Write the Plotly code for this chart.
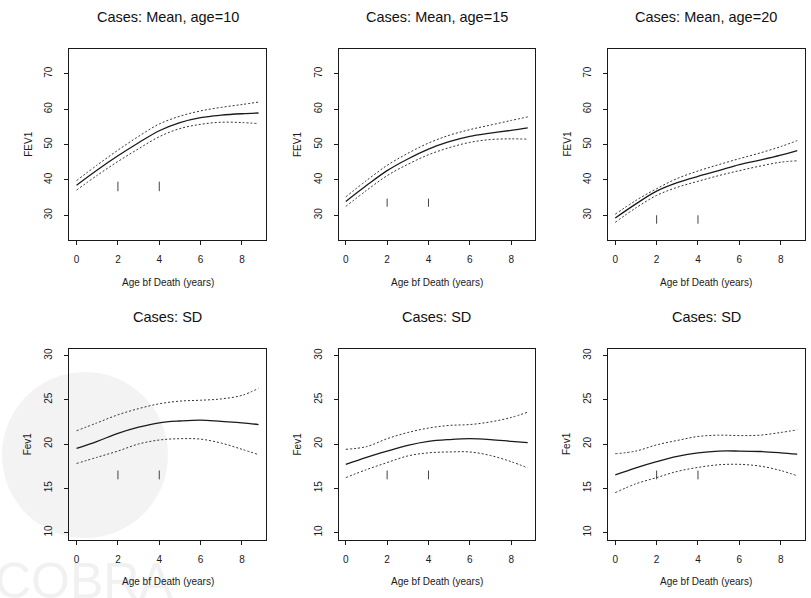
import plotly.graph_objects as go

# ---------------- data ----------------
x_age = [0, 1, 2, 3, 4, 5, 6, 7, 8, 8.8]
knots = [2, 4]

titles = ["Cases: Mean, age=10", "Cases: Mean, age=15", "Cases: Mean, age=20",
          "Cases: SD", "Cases: SD", "Cases: SD"]
y_titles = ["FEV1", "FEV1", "FEV1", "Fev1", "Fev1", "Fev1"]
x_title = "Age bf Death (years)"

mean10_fit = [38.5, 42.8, 46.8, 50.5, 53.9, 56.2, 57.6, 58.3, 58.7, 58.9]
mean10_hi = [39.8, 44.2, 48.4, 52.3, 55.8, 58.0, 59.5, 60.5, 61.3, 62.0]
mean10_lo = [37.1, 41.3, 45.2, 48.8, 52.2, 54.5, 55.7, 56.3, 56.2, 55.9]

mean15_fit = [33.9, 38.4, 42.6, 45.9, 48.7, 50.8, 52.3, 53.2, 54.0, 54.7]
mean15_hi = [35.2, 39.8, 44.1, 47.5, 50.4, 52.6, 54.2, 55.5, 56.8, 57.8]
mean15_lo = [32.5, 37.0, 41.2, 44.4, 47.1, 49.1, 50.6, 51.4, 51.6, 51.5]

mean20_fit = [29.2, 33.2, 36.8, 39.2, 41.0, 42.6, 44.3, 45.6, 47.0, 48.3]
mean20_hi = [30.3, 34.2, 37.5, 40.4, 42.5, 44.3, 46.0, 47.6, 49.4, 51.1]
mean20_lo = [28.0, 32.1, 35.6, 37.9, 39.6, 41.2, 42.6, 43.9, 45.0, 45.4]

sd10_fit = [19.5, 20.3, 21.2, 21.9, 22.4, 22.6, 22.7, 22.55, 22.4, 22.2]
sd10_hi = [21.5, 22.4, 23.3, 24.0, 24.55, 24.85, 24.95, 25.1, 25.5, 26.3]
sd10_lo = [17.8, 18.5, 19.2, 20.0, 20.45, 20.6, 20.55, 20.1, 19.4, 18.8]

sd15_fit = [17.7, 18.5, 19.2, 19.85, 20.3, 20.5, 20.6, 20.5, 20.3, 20.15]
sd15_hi = [19.4, 19.7, 20.6, 21.3, 21.8, 22.1, 22.2, 22.5, 23.0, 23.6]
sd15_lo = [16.2, 17.1, 17.9, 18.65, 19.0, 19.1, 19.1, 18.7, 18.0, 17.3]

sd20_fit = [16.5, 17.3, 18.0, 18.6, 19.0, 19.2, 19.2, 19.15, 19.0, 18.85]
sd20_hi = [18.9, 19.2, 19.9, 20.4, 20.85, 21.0, 20.95, 21.0, 21.3, 21.6]
sd20_lo = [14.5, 15.5, 16.2, 16.9, 17.35, 17.65, 17.7, 17.5, 17.0, 16.4]

fits = [mean10_fit, mean15_fit, mean20_fit, sd10_fit, sd15_fit, sd20_fit]
his = [mean10_hi, mean15_hi, mean20_hi, sd10_hi, sd15_hi, sd20_hi]
los = [mean10_lo, mean15_lo, mean20_lo, sd10_lo, sd15_lo, sd20_lo]

rug_bottom = [36.8, 32.4, 27.6, 16.0, 16.0, 16.0]
rug_top = [39.5, 34.7, 30.0, 17.0, 17.0, 17.0]

x_ticks = [0, 2, 4, 6, 8]
y_ticks_top = [30, 40, 50, 60, 70]
y_ticks_bot = [10, 15, 20, 25, 30]
x_lim = [0, 8.8]
y_lim_top = [25, 75]
y_lim_bot = [10, 30]

watermark_text = "COBRA"

# ---------------- layout geometry (pixels) ----------------
W, H = 811, 598
col_left = [69.3, 338.5, 608.0]
box_w = 196.5
row_top = [49.0, 348.5]
box_h = 191.0
FONT = "Liberation Sans, Arial, Helvetica, sans-serif"
INK = "#1a1a1a"


def ext(lim):
    d = (lim[1] - lim[0]) * 0.04
    return [lim[0] - d, lim[1] + d]


fig = go.Figure()
annotations = []

for i in range(6):
    r, c = divmod(i, 3)
    n = i + 1
    xa = "x" if n == 1 else f"x{n}"
    ya = "y" if n == 1 else f"y{n}"
    # confidence band (dotted) and fitted curve (solid)
    fig.add_trace(go.Scatter(x=x_age, y=his[i], mode="lines", xaxis=xa, yaxis=ya,
                             line=dict(color="#333", width=1, dash="2px,2px", shape="spline"),
                             showlegend=False, hoverinfo="skip"))
    fig.add_trace(go.Scatter(x=x_age, y=los[i], mode="lines", xaxis=xa, yaxis=ya,
                             line=dict(color="#333", width=1, dash="2px,2px", shape="spline"),
                             showlegend=False, hoverinfo="skip"))
    fig.add_trace(go.Scatter(x=x_age, y=fits[i], mode="lines", xaxis=xa, yaxis=ya,
                             line=dict(color=INK, width=1.3, shape="spline"),
                             showlegend=False, hoverinfo="skip"))
    # rug marks at knots
    rx, ry = [], []
    for k in knots:
        rx += [k, k, None]
        ry += [rug_bottom[i], rug_top[i], None]
    fig.add_trace(go.Scatter(x=rx, y=ry, mode="lines", xaxis=xa, yaxis=ya,
                             line=dict(color="#444", width=1),
                             showlegend=False, hoverinfo="skip"))

    L = col_left[c]
    T = row_top[r]
    xdom = [L / W, (L + box_w) / W]
    ydom = [1 - (T + box_h) / H, 1 - T / H]
    axis_common = dict(showline=True, mirror=True, linecolor=INK, linewidth=1,
                       ticks="outside", ticklen=4, tickcolor=INK, tickwidth=1,
                       showgrid=False, zeroline=False,
                       tickfont=dict(family=FONT, size=10, color=INK))
    fig.update_layout(**{
        ("xaxis" if n == 1 else f"xaxis{n}"): dict(
            domain=xdom, anchor=ya, range=ext(x_lim), tickvals=x_ticks,
            ticklabelstandoff=6, **axis_common),
        ("yaxis" if n == 1 else f"yaxis{n}"): dict(
            domain=ydom, anchor=xa,
            range=ext(y_lim_top if r == 0 else y_lim_bot),
            tickvals=y_ticks_top if r == 0 else y_ticks_bot,
            tickangle=-90, ticklabelstandoff=8, **axis_common),
    })
    cx = (L + box_w / 2) / W
    annotations.append(dict(text=titles[i], x=cx, y=1 - (T - 32) / H, xref="paper", yref="paper",
                            xanchor="center", yanchor="middle", showarrow=False,
                            font=dict(family=FONT, size=14.5, color="#111")))
    annotations.append(dict(text=x_title, x=cx, y=1 - (T + box_h + 42) / H, xref="paper",
                            yref="paper", xanchor="center", yanchor="middle", showarrow=False,
                            font=dict(family=FONT, size=10, color=INK)))
    annotations.append(dict(text=y_titles[i], x=(L - 41) / W, y=1 - (T + box_h / 2) / H,
                            xref="paper", yref="paper", xanchor="center", yanchor="middle",
                            textangle=-90, showarrow=False,
                            font=dict(family=FONT, size=10, color=INK)))

# very faint watermark behind the lower-left panel
annotations.insert(0, dict(text=watermark_text, x=84 / W, y=1 - 551 / H, xref="paper",
                           yref="paper", xanchor="center", yanchor="top", showarrow=False,
                           font=dict(family=FONT, size=50, color="#f1f1f1")))
shapes = [dict(type="circle", xref="paper", yref="paper", layer="below",
               x0=2 / W, x1=168 / W, y0=1 - 538 / H, y1=1 - 372 / H,
               fillcolor="#f3f3f3", line=dict(width=0))]

fig.update_layout(width=W, height=H, margin=dict(l=0, r=0, t=0, b=0),
                  paper_bgcolor="white", plot_bgcolor="rgba(0,0,0,0)",
                  annotations=annotations, shapes=shapes, showlegend=False)

fig.write_html("out.html")
